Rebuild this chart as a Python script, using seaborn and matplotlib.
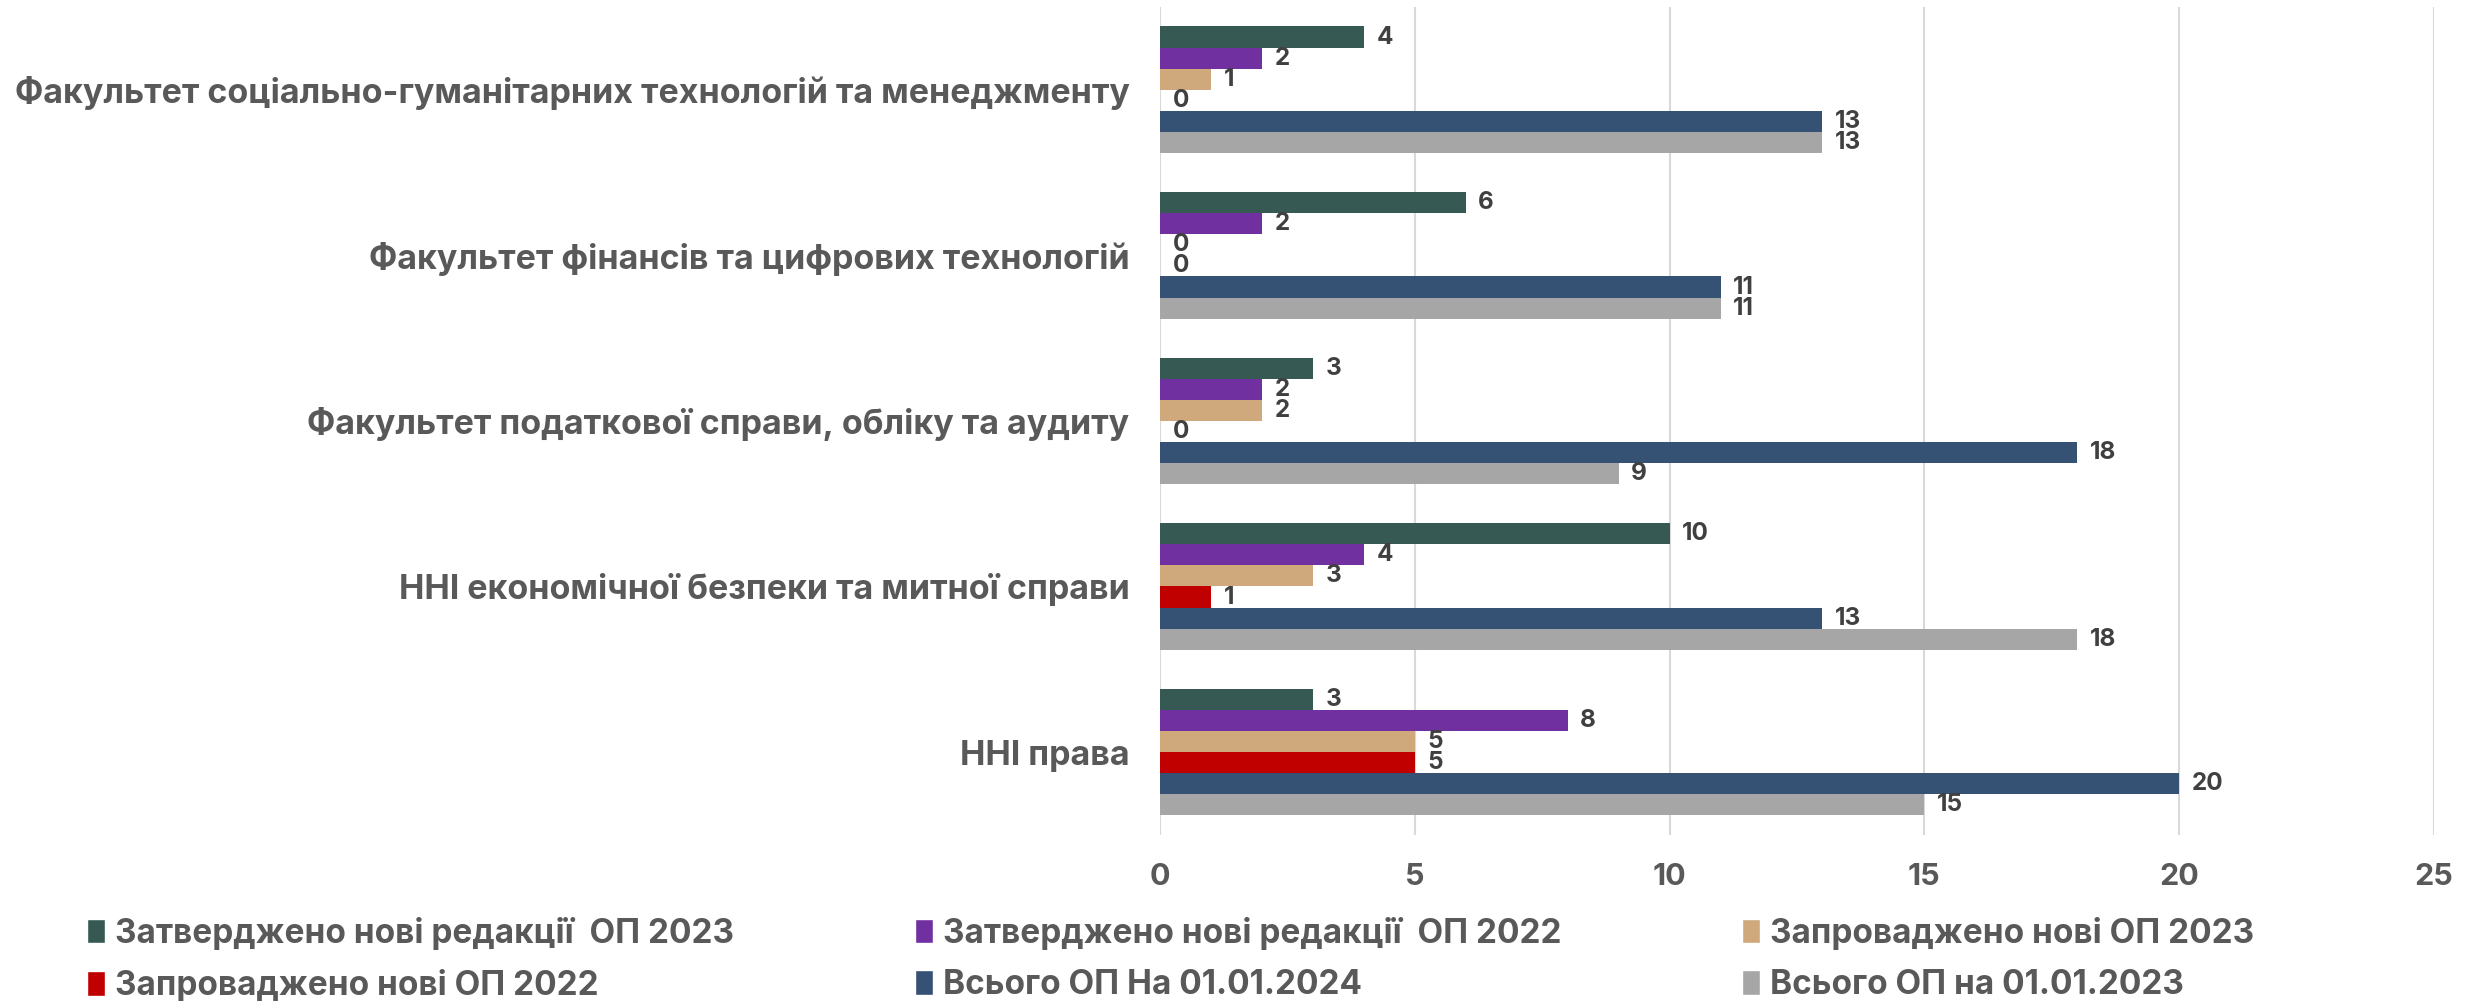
import pandas as pd
import matplotlib
matplotlib.use("Agg")
import matplotlib.pyplot as plt
from matplotlib.patches import Patch
import seaborn as sns

# дані з діаграми
faculties = [
    "Факультет соціально-гуманітарних технологій та менеджменту",
    "Факультет фінансів та цифрових технологій",
    "Факультет податкової справи, обліку та аудиту",
    "ННІ економічної безпеки та митної справи",
    "ННІ права",
]
series = [
    "Затверджено нові редакції  ОП 2023",
    "Затверджено нові редакції  ОП 2022",
    "Запроваджено нові ОП 2023",
    "Запроваджено нові ОП 2022",
    "Всього ОП На 01.01.2024",
    "Всього ОП на 01.01.2023",
]
red_2023 = [4, 6, 3, 10, 3]
red_2022 = [2, 2, 2, 4, 8]
new_2023 = [1, 0, 2, 3, 5]
new_2022 = [0, 0, 0, 1, 5]
total_2024 = [13, 11, 18, 13, 20]
total_2023 = [13, 11, 9, 18, 15]
colors = ["#365953", "#7030A0", "#CFA87C", "#C00000", "#355274", "#A6A6A6"]
xticks = [0, 5, 10, 15, 20, 25]

values = [red_2023, red_2022, new_2023, new_2022, total_2024, total_2023]
rows = []
for s, vals in zip(series, values):
    for f, v in zip(faculties, vals):
        rows.append({"faculty": f, "series": s, "value": v})
df = pd.DataFrame(rows)

sns.set_style("white")
plt.rcParams["font.family"] = ["Inter", "DejaVu Sans"]
plt.rcParams["font.weight"] = "bold"

fig = plt.figure(figsize=(24.76, 10.01), dpi=100)
ax = fig.add_axes([0.4685, 0.166, 0.5145, 0.827])

sns.barplot(data=df, x="value", y="faculty", hue="series", orient="h",
            palette=colors, saturation=1, width=0.765, errorbar=None,
            legend=False, ax=ax, linewidth=0)

for c in ax.containers:
    ax.bar_label(c, fmt="{:.0f}", padding=9, fontsize=17.5,
                 fontweight="bold", color="#404040")

ax.set_xlim(0, 25)
ax.set_xticks(xticks)
ax.set_xlabel("")
ax.set_ylabel("")
ax.grid(axis="x", color="#D9D9D9", linewidth=1.5)
ax.set_axisbelow(True)
for sp in ax.spines.values():
    sp.set_visible(False)
ax.tick_params(axis="x", length=0, pad=20, labelsize=22, labelcolor="#595959")
ax.tick_params(axis="y", length=0, pad=22, labelsize=24.5, labelcolor="#595959")
for t in ax.get_xticklabels() + ax.get_yticklabels():
    t.set_fontweight("bold")

# легенда у три колонки
col_x = [0.035, 0.3695, 0.7035]
for i, x in enumerate(col_x):
    hs = [Patch(facecolor=colors[i]), Patch(facecolor=colors[i + 3])]
    ls = [series[i], series[i + 3]]
    leg = fig.legend(hs, ls, loc="upper left", bbox_to_anchor=(x, 0.084),
                     frameon=False, fontsize=24, handlelength=0.55,
                     handleheight=0.75, handletextpad=0.3, labelspacing=0.58,
                     borderaxespad=0, borderpad=0)
    for t in leg.get_texts():
        t.set_color("#595959")
        t.set_fontweight("bold")

fig.savefig("out.png", dpi=100)
